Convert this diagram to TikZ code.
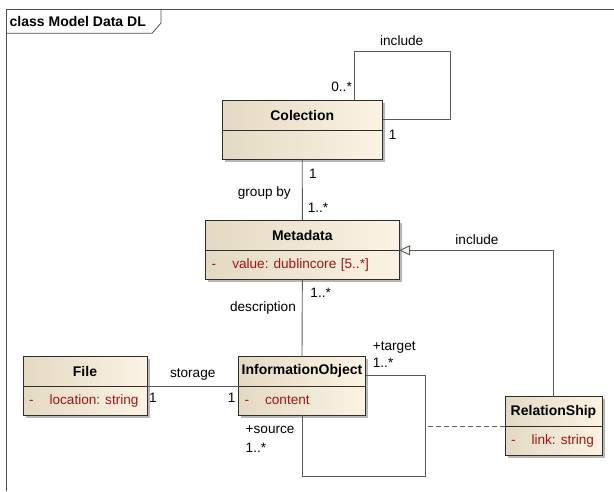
\documentclass[tikz,border=0pt]{standalone}
\usepackage{fontspec}
\setmainfont{Liberation Sans}
\usetikzlibrary{positioning,arrows.meta,shadows}
\definecolor{umlleft}{HTML}{E4D9C3}
\definecolor{umlright}{HTML}{FCF3E4}
\definecolor{umlborder}{HTML}{2E2E2E}
\definecolor{umlline}{HTML}{5A5A5A}
\definecolor{umlred}{HTML}{A31515}
\tikzset{
  classhead/.style={draw=umlborder,line width=0.9pt,left color=umlleft,right color=umlright,
    minimum width=#1,minimum height=30pt,inner sep=0pt,outer sep=0pt,
    font=\fontsize{14}{16}\selectfont\bfseries,
    drop shadow={shadow xshift=2.5pt,shadow yshift=-2.5pt,fill=black!28,opacity=1}},
  classattr/.style={draw=umlborder,line width=0.9pt,left color=umlleft,right color=umlright,
    text width=#1,minimum height=29pt,inner xsep=6pt,inner ysep=0pt,outer sep=0pt,
    align=left,text=umlred,font=\fontsize{13.6}{15}\selectfont,
    drop shadow={shadow xshift=2.5pt,shadow yshift=-2.5pt,fill=black!28,opacity=1}},
  assoc/.style={draw=umlline,line width=0.9pt},
  gen/.style={assoc,-{Triangle[length=11pt,width=10pt,fill=umlright]}},
  lbl/.style={font=\fontsize{13.6}{15}\selectfont,inner sep=0pt},
  frameline/.style={draw=umlborder!85,line width=0.8pt}
}
\newcommand{\attrline}[2]{\mbox{\makebox[20.6pt][l]{-}#1\hspace{5pt}#2}}
\begin{document}
\begin{tikzpicture}[x=1pt,y=-1pt]
\useasboundingbox (0,0) rectangle (614,491);
\draw[frameline] (6,491) -- (6,9.5) -- (614,9.5);
\draw[frameline] (6,33.3) -- (152,33.3) -- (161,23) -- (161,9.5);
\node[lbl,anchor=west,font=\fontsize{14}{16}\selectfont\bfseries] (diagtitle) at (9.5,21.5) {class Model Data DL};

\node[classhead=160.5pt,anchor=north west] (colection) at (222,100.3) {Colection};
\node[classattr=148.5pt,below=0pt of colection] (colection-attr) {};
\node[classhead=193.3pt,anchor=north west] (metadata) at (205.7,220.3) {Metadata};
\node[classattr=181.3pt,below=0pt of metadata] (metadata-attr) {\attrline{value:}{dublincore [5..*]}};
\node[classhead=124pt,anchor=north west] (file) at (23,356) {File};
\node[classattr=112pt,below=0pt of file] (file-attr) {\attrline{location:}{string}};
\node[classhead=127pt,anchor=north west] (infoobj) at (238.5,356) {InformationObject};
\node[classattr=115pt,below=0pt of infoobj] (infoobj-attr) {\attrline{content}{}};
\node[classhead=97pt,anchor=north west] (relship) at (505,396.7) {RelationShip};
\node[classattr=85pt,below=0pt of relship] (relship-attr) {\attrline{link:}{string}};

\coordinate (colloop) at (450,51);
\draw[assoc] ([xshift=-28pt]colection.north east) |- (colloop) |- ([yshift=-19.3pt]colection.north east);
\node[lbl] (colloop-name) at (401.7,40.7) {include};
\node[lbl,anchor=east] (colloop-src) at (352,86.7) {0..*};
\node[lbl] (colloop-dst) at (392.7,135) {1};

\draw[assoc] (colection-attr.south) -- (metadata.north);
\node[lbl] (groupby-src) at (313,174) {1};
\node[lbl,anchor=east] (groupby-name) at (291,192.7) {group by};
\node[lbl] (groupby-dst) at (318,208) {1..*};

\draw[assoc] (metadata-attr.south) -- (infoobj.north);
\node[lbl] (descr-src) at (320.7,293.3) {1..*};
\node[lbl] (descr-name) at (263,308.3) {description};

\draw[gen] (relship.north) |- (metadata.south east);
\node[lbl] (gen-name) at (477,240) {include};

\draw[assoc] (file.south east) -- (infoobj.south west);
\node[lbl] (storage-name) at (192.7,375) {storage};
\node[lbl] (storage-src) at (153,398) {1};
\node[lbl] (storage-dst) at (231.7,398) {1};

\coordinate (ioloop) at (425,476.7);
\draw[assoc] ([yshift=-19pt]infoobj.north east) -| (ioloop) -| (infoobj-attr.south);
\node[lbl,anchor=west] (target-role) at (372.7,347.3) {+target};
\node[lbl,anchor=west] (target-mult) at (372.7,363.3) {1..*};
\node[lbl,anchor=west] (source-role) at (245.5,430) {+source};
\node[lbl,anchor=west] (source-mult) at (245.5,448) {1..*};
\draw[assoc,dashed,dash pattern=on 5pt off 3pt] (relship.south west) -- (relship.south west -| ioloop);
\end{tikzpicture}
\end{document}
